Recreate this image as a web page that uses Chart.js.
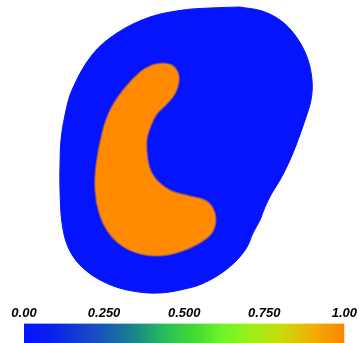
<!DOCTYPE html>
<html>
<head>
<meta charset="utf-8">
<script src="https://cdn.jsdelivr.net/npm/chart.js@4/dist/chart.umd.min.js"></script>
<style>
  body { margin: 0; background: #fff; }
  canvas { display: block; }
</style>
</head>
<body>
<canvas id="campo" width="359" height="300"></canvas>
<canvas id="barra" width="359" height="43"></canvas>
<script>
// contorno del dominio (valor 0.00)
var bordeX = [240,262,280,295,307,312,311,305,298,290,280,272,265,260,253,247,237,223,208,193,160,127,100,80,68,62,60,60,61,65,72,92,117,150,183,210];
var bordeY = [7,11,20,35,57,80,100,120,140,160,180,193,207,220,233,247,260,272,281,287,293,290,280,265,247,223,190,165,140,115,90,55,33,17,10,8];

// region con valor 1.00
var zonaX = [163,172,178,179,175,166,157,151,147,148,152,160,172,190,205,213,216,212,200,180,160,140,122,108,99,95,96,102,110,123,140,152];
var zonaY = [63,65,72,82,94,105,114,126,140,160,173,183,191,196,200,208,220,233,243,252,256,254,246,232,213,190,165,133,110,90,72,65];

// escala de colores
var escalaTicks = [0, 0.25, 0.5, 0.75, 1];
var escalaLabels = ['0.00', '0.250', '0.500', '0.750', '1.00'];
var escalaPos = [0, 0.08, 0.23, 0.34, 0.44, 0.54, 0.62, 0.70, 0.80, 0.90, 1];
var escalaColores = ['#0514ff','#0a1ef0','#1950be','#19828c','#28be5a','#46dc32','#6ef528','#96f019','#c8dc0a','#f0af05','#ff8200'];

function puntos(xs, ys){
  var p = [];
  for (var i = 0; i < xs.length; i++) p.push({x: xs[i], y: ys[i]});
  p.push({x: xs[0], y: ys[0]});
  return p;
}

var contexto = document.getElementById('campo').getContext('2d');
var myChart = new Chart(contexto, {
  type: 'line',
  data: {
    datasets: [{
      data: puntos(bordeX, bordeY),
      order: 2,
      fill: 'shape',
      tension: 0.35,
      backgroundColor: '#0514fd',
      borderColor: '#0514fd',
      borderWidth: 1,
      pointRadius: 0
    }, {
      data: puntos(zonaX, zonaY),
      order: 1,
      fill: 'shape',
      tension: 0.35,
      backgroundColor: '#ff8a00',
      borderColor: 'rgba(150,90,110,0.7)',
      borderWidth: 1.5,
      pointRadius: 0
    }]
  },
  options: {
    responsive: false,
    animation: false,
    devicePixelRatio: 1,
    parsing: false,
    layout: { padding: 0 },
    plugins: { legend: { display: false }, tooltip: { enabled: false } },
    scales: {
      x: { type: 'linear', min: 0, max: 359, display: false },
      y: { type: 'linear', min: 0, max: 300, reverse: true, display: false }
    }
  }
});

var contexto2 = document.getElementById('barra').getContext('2d');
var barChart = new Chart(contexto2, {
  type: 'bar',
  data: {
    labels: ['escala'],
    datasets: [{
      data: [[0, 1]],
      barPercentage: 1,
      categoryPercentage: 1,
      borderWidth: 0,
      backgroundColor: function(ctx){
        var area = ctx.chart.chartArea;
        if (!area) return escalaColores[0];
        var g = ctx.chart.ctx.createLinearGradient(area.left, 0, area.right, 0);
        for (var i = 0; i < escalaPos.length; i++) g.addColorStop(escalaPos[i], escalaColores[i]);
        return g;
      }
    }]
  },
  options: {
    indexAxis: 'y',
    responsive: false,
    animation: false,
    devicePixelRatio: 1,
    layout: { padding: { left: 24, right: 12, top: 4, bottom: 0 } },
    plugins: { legend: { display: false }, tooltip: { enabled: false } },
    scales: {
      x: {
        type: 'linear', position: 'top', min: 0, max: 1,
        grid: { display: false, drawTicks: false },
        border: { display: false },
        afterBuildTicks: function(axis){
          axis.ticks = escalaTicks.map(function(v){ return {value: v}; });
        },
        ticks: {
          autoSkip: false, maxRotation: 0, padding: 2,
          color: '#000',
          font: { family: 'Liberation Sans', size: 13, style: 'italic', weight: 'bold' },
          callback: function(v, i){ return escalaLabels[i]; }
        }
      },
      y: { display: false }
    }
  }
});
</script>
</body>
</html>
